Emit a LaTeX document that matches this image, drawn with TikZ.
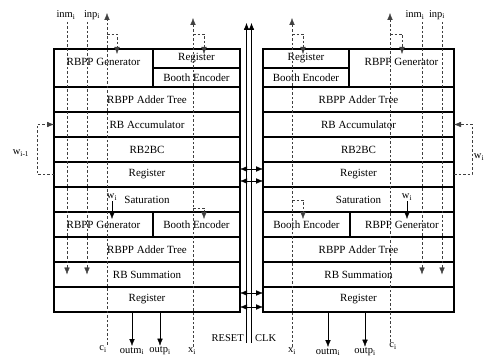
\documentclass[tikz,border=0pt]{standalone}
\usepackage{fontspec}
\setmainfont{Liberation Serif}
\usetikzlibrary{arrows.meta}

\begin{document}
\begin{tikzpicture}[x=1pt, y=-1pt,
  blk/.style={draw, line width=1.2pt, inner sep=0pt, outer sep=0pt, minimum height=25pt, font=\fontsize{11}{13}\selectfont},
  sig/.style={thin, draw=black!75, dash pattern=on 2.5pt off 2pt},
  arr/.style={-{Latex[length=7pt,width=5.5pt]}},
  darr/.style={{Latex[length=7pt,width=5.5pt]}-{Latex[length=7pt,width=5.5pt]}},
  lab/.style={inner sep=1pt, font=\fontsize{10.5}{12}\selectfont}]
\useasboundingbox (0,0) rectangle (492,363);
% left unit
\node[blk, minimum width=99pt, minimum height=38pt] (LGen) at (103.5,68) {};
\node[font=\fontsize{11}{13}\selectfont] (LGenT) at (103.5,62) {RBPP Generator};
\node[blk, minimum width=87pt, minimum height=19pt] (LReg) at (196.5,58.5) {Register};
\node[blk, minimum width=87pt, minimum height=19pt] (LBooth) at (196.5,77.5) {Booth Encoder};
\node[blk, minimum width=99pt] (LGen2) at (103.5,224.5) {RBPP Generator};
\node[blk, minimum width=87pt] (LBooth2) at (196.5,224.5) {Booth Encoder};
% right unit
\node[blk, minimum width=86pt, minimum height=19pt] (RReg) at (306,58.5) {Register};
\node[blk, minimum width=86pt, minimum height=19pt] (RBooth) at (306,77.5) {Booth Encoder};
\node[blk, minimum width=105pt, minimum height=38pt] (RGen) at (401.5,68) {};
\node[font=\fontsize{11}{13}\selectfont] (RGenT) at (401.5,62) {RBPP Generator};
\node[blk, minimum width=87pt] (RBooth2) at (306.5,224.5) {Booth Encoder};
\node[blk, minimum width=104pt] (RGen2) at (402,224.5) {RBPP Generator};
% full width rows
\foreach \nm/\yy/\txt in {Tree/99.5/RBPP Adder Tree, Acc/124.5/RB Accumulator, Conv/149.5/RB2BC, Reg2/174.5/Register, Sat/199.5/Saturation, Tree2/249.5/RBPP Adder Tree, Sum/274.5/RB Summation, Reg3/299.5/Register}{
  \node[blk, minimum width=186pt] (L\nm) at (147,\yy) {\txt};
  \node[blk, minimum width=191pt] (R\nm) at (358.5,\yy) {\txt};
}
% left signals
\coordinate (inmL) at (67,22);
\coordinate (inpL) at (87,22);
\coordinate (LcTop) at (107,13);
\coordinate (LxTop) at (193,18);
\node[lab] (inmLlab) at (66,15) {inm\textsubscript{i}};
\node[lab] (inpLlab) at (92,15) {inp\textsubscript{i}};
\node[lab] (LcLab) at (103,349) {c\textsubscript{i}};
\node[lab] (LxLab) at (192,351) {x\textsubscript{i}};
\draw[sig, arr] (inmL) -- (inmL |- LSum.center);
\draw[sig, arr] (inpL) -- (inpL |- LSum.center);
\draw[sig, arr] (LcTop |- LcLab.north) -- (LcTop);
\draw[sig, arr] (LxTop |- LxLab.north) -- (LxTop);
\draw[sig, arr] (LcTop |- 0,34) -| ([xshift=10pt,yshift=-5pt]LcTop |- LGen.north);
\draw[sig, arr] (LxTop |- 0,34) -| ([xshift=11pt,yshift=-5pt]LxTop |- LReg.north);
\draw[sig, arr] (LxTop |- 0,208) -| ([xshift=11pt,yshift=-7pt]LxTop |- LBooth2.north);
\node[lab] (LwLab) at (112,197) {w\textsubscript{i}};
\draw[arr] (LwLab.south) -- ([yshift=-7pt]LwLab.south |- LGen2.north);
\node[lab] (LfbLab) at (21,153) {w\textsubscript{i-1}};
\draw[sig, arr] (LReg2.west) -- ++(-17,0) |- (LAcc.west);
% right signals
\coordinate (inmR) at (422,22);
\coordinate (inpR) at (442,22);
\coordinate (RxTop) at (292,18);
\coordinate (RcTop) at (390,13);
\node[lab] (inmRlab) at (415,15) {inm\textsubscript{i}};
\node[lab] (inpRlab) at (437,15) {inp\textsubscript{i}};
\node[lab] (RxLab) at (292,351) {x\textsubscript{i}};
\node[lab] (RcLab) at (393,346) {c\textsubscript{i}};
\draw[sig, arr] (inmR) -- (inmR |- RSum.center);
\draw[sig, arr] (inpR) -- (inpR |- RSum.center);
\draw[sig, arr] (RxTop |- RxLab.north) -- (RxTop);
\draw[sig, arr] (RcTop |- RcLab.north) -- (RcTop);
\draw[sig, arr] (RxTop |- 0,34) -| ([xshift=11pt,yshift=-5pt]RxTop |- RReg.north);
\draw[sig, arr] (RcTop |- 0,34) -| ([xshift=12pt,yshift=-5pt]RcTop |- RGen.north);
\draw[sig, arr] (RxTop |- 0,200) -| ([xshift=11pt,yshift=-7pt]RxTop |- RBooth2.north);
\node[lab] (RwLab) at (407,197) {w\textsubscript{i}};
\draw[arr] (RwLab.south) -- ([yshift=-7pt]RwLab.south |- RGen2.north);
\node[lab] (RfbLab) at (479,157) {w\textsubscript{i}};
\draw[sig, arr] (RReg2.east) -- ++(18,0) |- (RAcc.east);
% outputs
\node[lab] (LomLab) at (132,351) {outm\textsubscript{i}};
\node[lab] (LopLab) at (160,351) {outp\textsubscript{i}};
\node[lab] (RomLab) at (328,352) {outm\textsubscript{i}};
\node[lab] (RopLab) at (365,352) {outp\textsubscript{i}};
\draw[arr] (LReg3.south -| LomLab) -- (LomLab.north);
\draw[arr] (LReg3.south -| LopLab) -- (LopLab.north);
\draw[arr] (RReg3.south -| RomLab) -- (RomLab.north);
\draw[arr] (RReg3.south -| RopLab) -- (RopLab.north);
% reset and clock
\coordinate (rst) at (246.5,23);
\coordinate (clk) at (251.5,23);
\node[lab, anchor=east] (rstLab) at (245,338) {RESET};
\node[lab, anchor=west] (clkLab) at (254,338) {CLK};
\draw[arr] (rst |- rstLab.south) -- (rst);
\draw[arr] (clk |- clkLab.south) -- (clk);
\foreach \yy in {169,181,293,307}
  \draw[darr] (LReg2.east |- 0,\yy) -- (RReg2.west |- 0,\yy);
\end{tikzpicture}
\end{document}
